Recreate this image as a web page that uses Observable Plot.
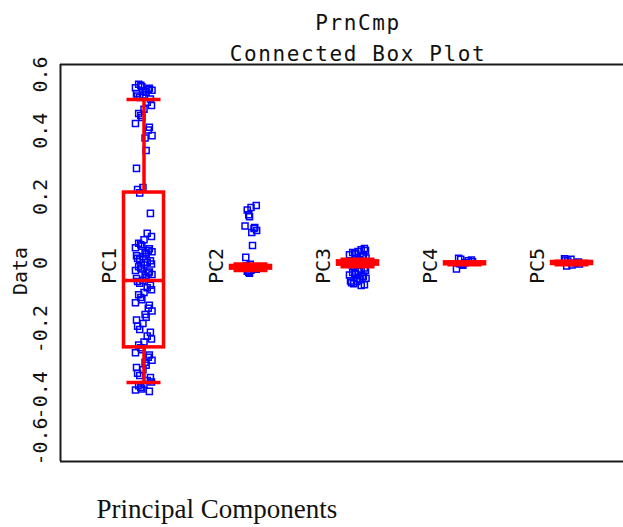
<!DOCTYPE html>
<html><head><meta charset="utf-8">
<script src="https://cdn.jsdelivr.net/npm/d3@7"></script>
<script src="https://cdn.jsdelivr.net/npm/@observablehq/plot@0.6"></script>
<style>
body{margin:0;background:#fff;}
#chart svg{display:block;}
</style></head><body><div id="chart"></div>
<script>
const components = ["PC1","PC2","PC3","PC4","PC5"];
const pc1 = [0.540,0.537,0.533,0.530,0.528,0.525,0.522,0.520,0.516,0.512,0.508,0.505,0.500,0.496,
  0.486,0.476,0.465,0.452,0.446,0.440,0.422,0.410,0.402,0.385,0.378,0.340,0.286,0.228,0.222,0.212,
  0.150,0.090,0.080,0.070,
  0.060,0.055,0.051,0.046,0.043,0.038,0.034,0.031,0.027,0.022,0.019,0.014,0.010,0.007,0.002,-0.003,-0.006,-0.011,-0.015,-0.018,-0.023,-0.027,-0.030,-0.035,-0.039,-0.044,-0.047,-0.052,-0.056,-0.061,
  -0.067,-0.075,-0.081,-0.089,-0.096,-0.104,-0.111,-0.120,-0.128,-0.137,-0.145,-0.156,-0.164,-0.172,-0.183,-0.191,-0.201,-0.209,-0.221,-0.230,-0.239,-0.248,
  -0.256,-0.262,-0.271,-0.278,-0.285,-0.294,-0.300,-0.309,-0.316,-0.323,-0.333,-0.340,-0.346,-0.355,-0.360,-0.367,-0.371,-0.376,-0.381,-0.384,-0.388];
const pc2 = [0.174,0.168,0.160,0.146,0.140,0.112,0.107,0.104,0.098,0.092,0.053,0.017,-0.004,-0.008,-0.011,-0.013,-0.016,-0.019,-0.022,-0.025,-0.028,-0.031];
const pc3 = [0.044,0.040,0.038,0.035,0.032,0.030,0.027,0.025,0.022,0.019,0.015,0.010,0.005,0.001,-0.002,-0.005,-0.010,-0.015,-0.019,-0.022,-0.025,-0.029,-0.031,-0.034,-0.036,-0.040,-0.042,-0.046,-0.048,-0.050,-0.054,-0.056,-0.060,-0.063,-0.066,-0.068];
const pc4 = [0.014,0.011,0.009,0.007,0.004,0.001,-0.002,-0.004,-0.007,-0.018];
const pc5 = [0.013,0.011,0.009,0.006,0.003,0.000,-0.003,-0.006,-0.009];
const seriesValues = [pc1, pc2, pc3, pc4, pc5];
const boxMedian = [-0.053, -0.013, 0.000, -0.001, 0.000];
const boxQ1 = [-0.255, -0.017, -0.005, -0.004, -0.003];
const boxQ3 = [0.213, -0.009, 0.005, 0.002, 0.003];
const whiskerLo = [-0.361, -0.023, -0.011, -0.005, -0.005];
const whiskerHi = [0.494, -0.003, 0.011, 0.003, 0.005];
const yTicks = [-0.6, -0.4, -0.2, 0, 0.2, 0.4, 0.6];
const yTickLabels = ["-0.6", "-0.4", "-0.2", "0", "0.2", "0.4", "0.6"];
const titleLines = ["PrnCmp", "Connected Box Plot"];
const xTitle = "Principal Components";
const yTitle = "Data";

// table built from the arrays above
const jitter = [-0.05, 0.04, -0.01, 0.07, -0.08, 0.02, 0.06, -0.03, 0.075, -0.06, 0.0, 0.05, -0.07, 0.03, -0.02, 0.01, -0.04];
const points = seriesValues.flatMap((vals, i) => vals.map((v, j) => ({comp: i + 1, jx: jitter[(j * 7 + i * 3) % jitter.length] * (i === 1 ? 0.7 : 1), v})));
const stats = components.map((c, i) => ({name: c, idx: i + 1, med: boxMedian[i], q1: boxQ1[i], q3: boxQ3[i], lo: whiskerLo[i], hi: whiskerHi[i]}));
const xMin = 0.2196, xMax = 5.481;
const mono = "DejaVu Sans Mono";
const RED = "#ff0000", BLUE = "#0000ff", INK = "#111";
const boxHalf = 0.187, capHalf = 0.159;
const tickText = {frameAnchor: "left", textAnchor: "middle", lineAnchor: "middle", dx: -20, rotate: -90, fontSize: 20, fill: INK};

const plot = Plot.plot({
  width: 623, height: 527,
  marginLeft: 60, marginRight: 0, marginTop: 64, marginBottom: 66,
  style: {background: "#fff", fontFamily: mono},
  x: {type: "linear", domain: [xMin, xMax], axis: null},
  y: {domain: [-0.6, 0.6], axis: null},
  marks: [
    Plot.ruleY([0.6, -0.6], {stroke: "#1a1a1a", strokeWidth: 2}),
    Plot.ruleX([xMin], {y1: -0.6, y2: 0.6, stroke: "#1a1a1a", strokeWidth: 2}),
    Plot.dot(points, {x: d => d.comp + d.jx, y: "v", symbol: "square", r: 3.4, stroke: BLUE, strokeWidth: 1.5, fill: "none"}),
    Plot.ruleX(stats, {x: "idx", y1: "lo", y2: "q1", stroke: RED, strokeWidth: 3.5}),
    Plot.ruleX(stats, {x: "idx", y1: "q3", y2: "hi", stroke: RED, strokeWidth: 3.5}),
    Plot.rect(stats, {x1: d => d.idx - boxHalf, x2: d => d.idx + boxHalf, y1: "q1", y2: "q3", stroke: RED, strokeWidth: 3.5, fill: "none"}),
    Plot.ruleY(stats, {y: "med", x1: d => d.idx - boxHalf, x2: d => d.idx + boxHalf, stroke: RED, strokeWidth: 3.5}),
    Plot.ruleY(stats, {y: "lo", x1: d => d.idx - capHalf, x2: d => d.idx + capHalf, stroke: RED, strokeWidth: 3.5}),
    Plot.ruleY(stats, {y: "hi", x1: d => d.idx - capHalf, x2: d => d.idx + capHalf, stroke: RED, strokeWidth: 3.5}),
    Plot.text(stats, {x: d => d.idx - 0.322, y: () => 0, text: "name", rotate: -90, textAnchor: "middle", fontSize: 20, dy: 3, fill: INK}),
    Plot.text(yTicks.slice(1, -1), {...tickText, y: d => d, text: (d, i) => yTickLabels[i + 1]}),
    Plot.text([yTicks[yTicks.length - 1]], {...tickText, y: d => d, text: () => yTickLabels[yTickLabels.length - 1], dy: 10}),
    Plot.text([yTicks[0]], {...tickText, y: d => d, text: () => yTickLabels[0], dy: -20}),
    Plot.text([yTitle], {frameAnchor: "left", textAnchor: "middle", lineAnchor: "middle", dx: -40, dy: 8, rotate: -90, fontSize: 20, fill: INK}),
    Plot.text([titleLines[0]], {x: () => (components.length + 1) / 2, frameAnchor: "top", lineAnchor: "middle", dy: -41, fontSize: 21, fill: INK}),
    Plot.text([titleLines[1]], {x: () => (components.length + 1) / 2, frameAnchor: "top", lineAnchor: "middle", dy: -10, fontSize: 21, fill: INK}),
    Plot.text([xTitle], {frameAnchor: "bottom-left", textAnchor: "start", lineAnchor: "bottom", dx: 36, dy: 56, fontFamily: "Liberation Serif", fontSize: 27, fill: INK})
  ]
});
plot.querySelectorAll("text").forEach(t => {
  if (titleLines.includes(t.textContent)) t.setAttribute("letter-spacing", "1.6");
});
document.getElementById("chart").appendChild(plot);
</script></body></html>
